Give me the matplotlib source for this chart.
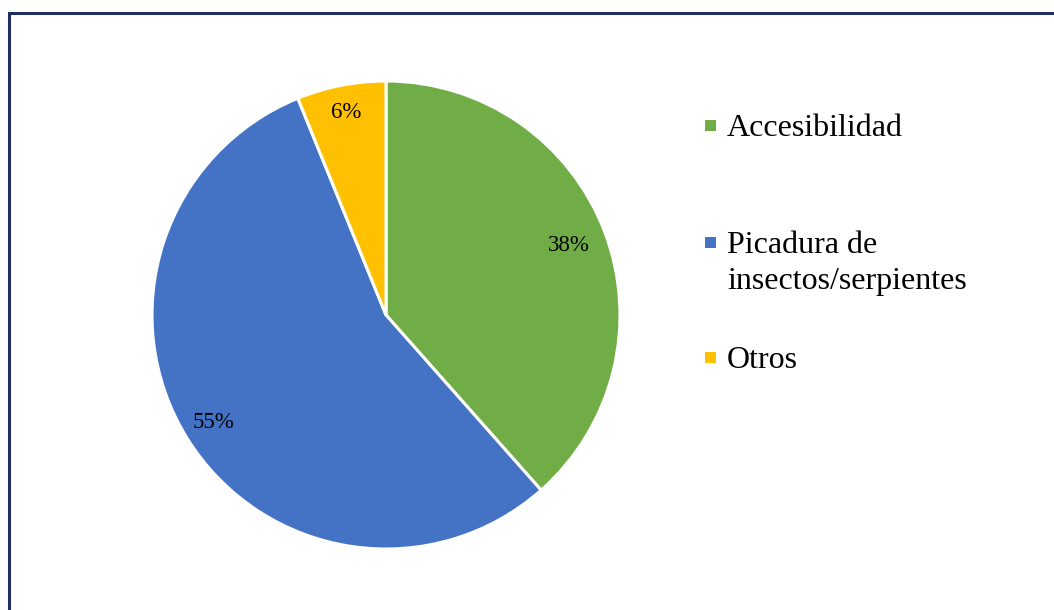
import matplotlib.pyplot as plt
import numpy as np
from matplotlib.patches import Rectangle

plt.rcParams['font.family'] = ['Liberation Serif', 'DejaVu Serif']

# Datos
categorias = ['Accesibilidad', 'Picadura de\ninsectos/serpientes', 'Otros']
valores = [38.46, 55.38, 6.15]
colores = ['#70AD47', '#4472C4', '#FFC000']

W, H = 1054, 610
fig = plt.figure(figsize=(W / 100, H / 100), dpi=100)

# Marco azul oscuro (solo visibles borde izquierdo y superior)
fig.patches.append(Rectangle((8.5 / W, -0.05), 1.2, (H - 13.5) / H + 0.05,
                             transform=fig.transFigure, fill=False,
                             edgecolor='#1F3060', linewidth=2.2))

# Pastel
cx, cy, r = 386, 315, 234
ax = fig.add_axes([(cx - r) / W, (H - cy - r) / H, 2 * r / W, 2 * r / H])
wedges, texts, autotexts = ax.pie(valores, colors=colores, startangle=90,
                                  counterclock=False, autopct='%.0f%%',
                                  pctdistance=0.86, radius=1,
                                  wedgeprops=dict(edgecolor='white', linewidth=2.2),
                                  textprops=dict(fontsize=16.5, color='black'))

# Distancia de cada etiqueta al centro
dist_etiquetas = [0.835, 0.87, 0.88]
for w, t, d in zip(wedges, autotexts, dist_etiquetas):
    ang = np.deg2rad((w.theta1 + w.theta2) / 2)
    t.set_position((d * np.cos(ang), d * np.sin(ang)))

ax.set_xlim(-1, 1)
ax.set_ylim(-1, 1)
ax.set_aspect('equal')
ax.axis('off')

# Leyenda manual
legend_y = [125, 242, 357]
for cat, col, y in zip(categorias, colores, legend_y):
    fig.patches.append(Rectangle((705 / W, (H - y - 6) / H), 11 / W, 11 / H,
                                 transform=fig.transFigure, facecolor=col,
                                 edgecolor='none'))
    for i, line in enumerate(cat.split('\n')):
        fig.text(727 / W, (H - y - i * 36) / H, line, fontsize=23,
                 va='center_baseline', ha='left')

fig.savefig('out.png', dpi=100, facecolor='white')
